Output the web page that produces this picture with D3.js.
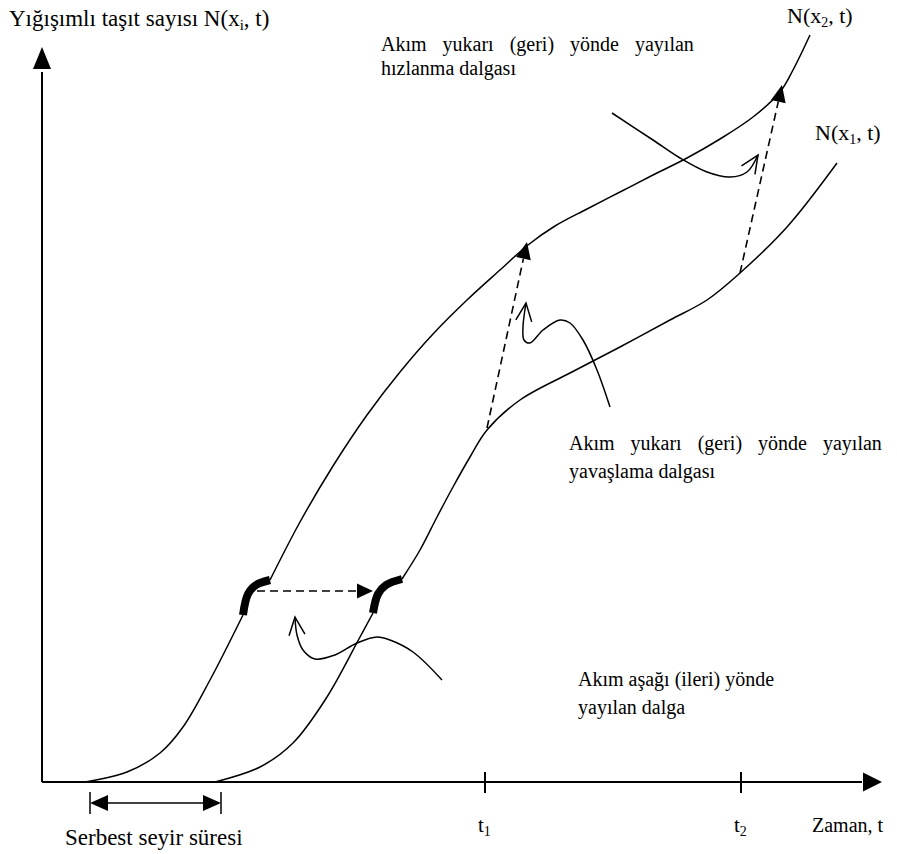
<!DOCTYPE html>
<html>
<head>
<meta charset="utf-8">
<script src="https://cdn.jsdelivr.net/npm/d3@7/dist/d3.min.js"></script>
<style>
  html, body { margin: 0; padding: 0; background: #fff; }
  text { font-family: "Liberation Serif", "Times New Roman", serif; fill: #000; }
</style>
</head>
<body>
<svg id="chart" width="897" height="854"></svg>
<script>
// ---------- DATA (time t, cumulative count N) ----------
// Cumulative curve at downstream point x2 (upper/left curve)
const curveX2Start = [[43,0],[85,10],[118,29],[141,55],[168,102],[201,167]];
const curveX2Bend  = [[201,167],[206,188],[214,197],[228,202]];
const curveX2Rest  = [[228,202],[258,260],[291,316],[325,367],[358,410],[391,448],[425,482],[458,512],[486,537],[513,556],[545,573],[578,590],[611,607],[645,624],[678,643],[711,665],[738,690],[751,712],[768,747]];
// Cumulative curve at upstream point x1 (lower/right curve)
const curveX1Start = [[173,0],[218,15],[251,39],[285,85],[318,145],[331,169]];
const curveX1Bend  = [[331,169],[336,188],[344,197],[360,203]];
const curveX1Rest  = [[360,203],[378,232],[395,265],[411,295],[428,325],[445,352],[478,382],[528,409],[578,435],[628,462],[665,482],[698,509],[745,555],[795,619]];
// Wave propagation (dashed) segments: [from, to]
const waveForward  = [[215,191],[331,191]];
const waveBack1    = [[445,354],[485,540]];
const waveBack2    = [[698,509],[740,697]];
// Annotation pointer curves
const pointerDown  = [[400,102],[371,130],[348,142],[335,145],[315,139],[293,127],[273,123],[261,132],[255,147],[253,165]];
const pointerSlow  = [[568,375],[555,412],[541,442],[528,459],[518,462],[501,452],[488,439],[482,442],[481,455],[484,479]];
const pointerAccel = [[570,669],[611,642],[638,624],[665,610],[688,605],[705,610],[716,627]];
// Free-flow time interval
const freeFlow = [48,179];
// Axis ticks
const tickTimes = [443,699];
const tickLabels = ["1","2"];

// ---------- SCALES ----------
const svg = d3.select("#chart");
const x = d3.scaleLinear().domain([0, 840]).range([42, 882]);
const y = d3.scaleLinear().domain([0, 735]).range([782, 47]);

const line = d3.line().x(d => x(d[0])).y(d => y(d[1])).curve(d3.curveCatmullRom.alpha(0.5));
const straight = d3.line().x(d => x(d[0])).y(d => y(d[1]));

function arrowHead(p0, p1, len, half) {
  const x0 = x(p0[0]), y0 = y(p0[1]), x1 = x(p1[0]), y1 = y(p1[1]);
  const dx = x1 - x0, dy = y1 - y0, L = Math.hypot(dx, dy);
  const ux = dx / L, uy = dy / L;
  const bx = x1 - ux * len, by = y1 - uy * len;
  return `M${x1},${y1}L${bx - uy * half},${by + ux * half}L${bx + uy * half},${by - ux * half}Z`;
}
function openHead(pts, len, half) {
  const n = pts.length;
  const p0 = pts[n - 2], p1 = pts[n - 1];
  const x0 = x(p0[0]), y0 = y(p0[1]), x1 = x(p1[0]), y1 = y(p1[1]);
  const dx = x1 - x0, dy = y1 - y0, L = Math.hypot(dx, dy);
  const ux = dx / L, uy = dy / L;
  const bx = x1 - ux * len, by = y1 - uy * len;
  return `M${bx - uy * half},${by + ux * half}L${x1},${y1}L${bx + uy * half},${by - ux * half}`;
}

// ---------- AXES ----------
svg.append("path").attr("d", straight([[0,0],[0,710]])).attr("stroke", "#000").attr("stroke-width", 2).attr("fill", "none");
svg.append("path").attr("d", arrowHead([0,0],[0,735], 22, 9)).attr("fill", "#000");
svg.append("path").attr("d", straight([[0,0],[820,0]])).attr("stroke", "#000").attr("stroke-width", 2).attr("fill", "none");
svg.append("path").attr("d", arrowHead([0,0],[840,0], 19, 9.5)).attr("fill", "#000");

tickTimes.forEach((t, i) => {
  svg.append("line").attr("x1", x(t)).attr("x2", x(t)).attr("y1", y(0) - 10).attr("y2", y(0) + 11)
    .attr("stroke", "#000").attr("stroke-width", 2);
  const tx = svg.append("text").attr("x", x(t) - 7).attr("y", 832).attr("font-size", 21);
  tx.append("tspan").text("t");
  tx.append("tspan").attr("font-size", 14).attr("dy", 4).text(tickLabels[i]);
});

// ---------- CURVES ----------
function thin(pts) {
  svg.append("path").attr("d", line(pts)).attr("stroke", "#000").attr("stroke-width", 1.5).attr("fill", "none");
}
function thick(pts) {
  svg.append("path").attr("d", line(pts)).attr("stroke", "#000").attr("stroke-width", 8).attr("fill", "none");
}
thin(curveX2Start); thick(curveX2Bend); thin(curveX2Rest);
thin(curveX1Start); thick(curveX1Bend); thin(curveX1Rest);

// ---------- WAVES (dashed) ----------
[[waveForward, 16, 7.5], [waveBack1, 17, 7.5], [waveBack2, 17, 7.5]].forEach(([seg, len, half]) => {
  const p0 = seg[0], p1 = seg[1];
  const X0 = x(p0[0]), Y0 = y(p0[1]), X1 = x(p1[0]), Y1 = y(p1[1]);
  const L = Math.hypot(X1 - X0, Y1 - Y0);
  const k = (L - len) / L;
  svg.append("line").attr("x1", X0).attr("y1", Y0)
    .attr("x2", X0 + (X1 - X0) * k).attr("y2", Y0 + (Y1 - Y0) * k)
    .attr("stroke", "#000").attr("stroke-width", 1.6).attr("stroke-dasharray", "8,5");
  svg.append("path").attr("d", arrowHead(p0, p1, len, half)).attr("fill", "#000");
});

// ---------- POINTERS ----------
[pointerDown, pointerSlow, pointerAccel].forEach(pts => {
  thin(pts);
  svg.append("path").attr("d", openHead(pts, 18, 8)).attr("stroke", "#000").attr("stroke-width", 1.5).attr("fill", "none");
});

// ---------- FREE-FLOW INTERVAL ----------
const ffy = 803;
freeFlow.forEach(t => {
  svg.append("line").attr("x1", x(t)).attr("x2", x(t)).attr("y1", ffy - 11).attr("y2", ffy + 11).attr("stroke", "#000").attr("stroke-width", 1.5);
});
svg.append("line").attr("x1", x(freeFlow[0]) + 10).attr("x2", x(freeFlow[1]) - 10).attr("y1", ffy).attr("y2", ffy).attr("stroke", "#000").attr("stroke-width", 1.5);
svg.append("path").attr("d", `M${x(freeFlow[0])},${ffy}L${x(freeFlow[0]) + 18},${ffy - 8}L${x(freeFlow[0]) + 18},${ffy + 8}Z`).attr("fill", "#000");
svg.append("path").attr("d", `M${x(freeFlow[1])},${ffy}L${x(freeFlow[1]) - 18},${ffy - 8}L${x(freeFlow[1]) - 18},${ffy + 8}Z`).attr("fill", "#000");

// ---------- TEXT ----------
function label(xp, yp, parts, size, ws) {
  const t = svg.append("text").attr("x", xp).attr("y", yp).attr("font-size", size || 20);
  if (ws) t.attr("word-spacing", ws);
  const subSize = Math.round((size || 20) * 0.65);
  parts.forEach(p => {
    if (typeof p === "string") t.append("tspan").text(p);
    else {
      t.append("tspan").attr("font-size", subSize).attr("dy", 4).text(p.sub);
      t.append("tspan").attr("dy", -4).text(p.after);
    }
  });
  return t;
}
label(9, 26, ["Yığışımlı taşıt sayısı N(x", {sub: "i", after: ", t)"}], 23);
label(787, 23, ["N(x", {sub: "2", after: ", t)"}], 22);
label(815, 140, ["N(x", {sub: "1", after: ", t)"}], 22);
label(381, 51, ["Akım yukarı (geri) yönde yayılan"], 20, 11);
label(381, 75, ["hızlanma dalgası"], 20);
label(569, 450, ["Akım yukarı (geri) yönde yayılan"], 20, 11);
label(569, 478, ["yavaşlama dalgası"], 20);
label(578, 686, ["Akım aşağı (ileri) yönde"], 20);
label(578, 714, ["yayılan dalga"], 20);
label(812, 832, ["Zaman, t"], 20);
label(65, 845, ["Serbest seyir süresi"], 23);
</script>
</body>
</html>
